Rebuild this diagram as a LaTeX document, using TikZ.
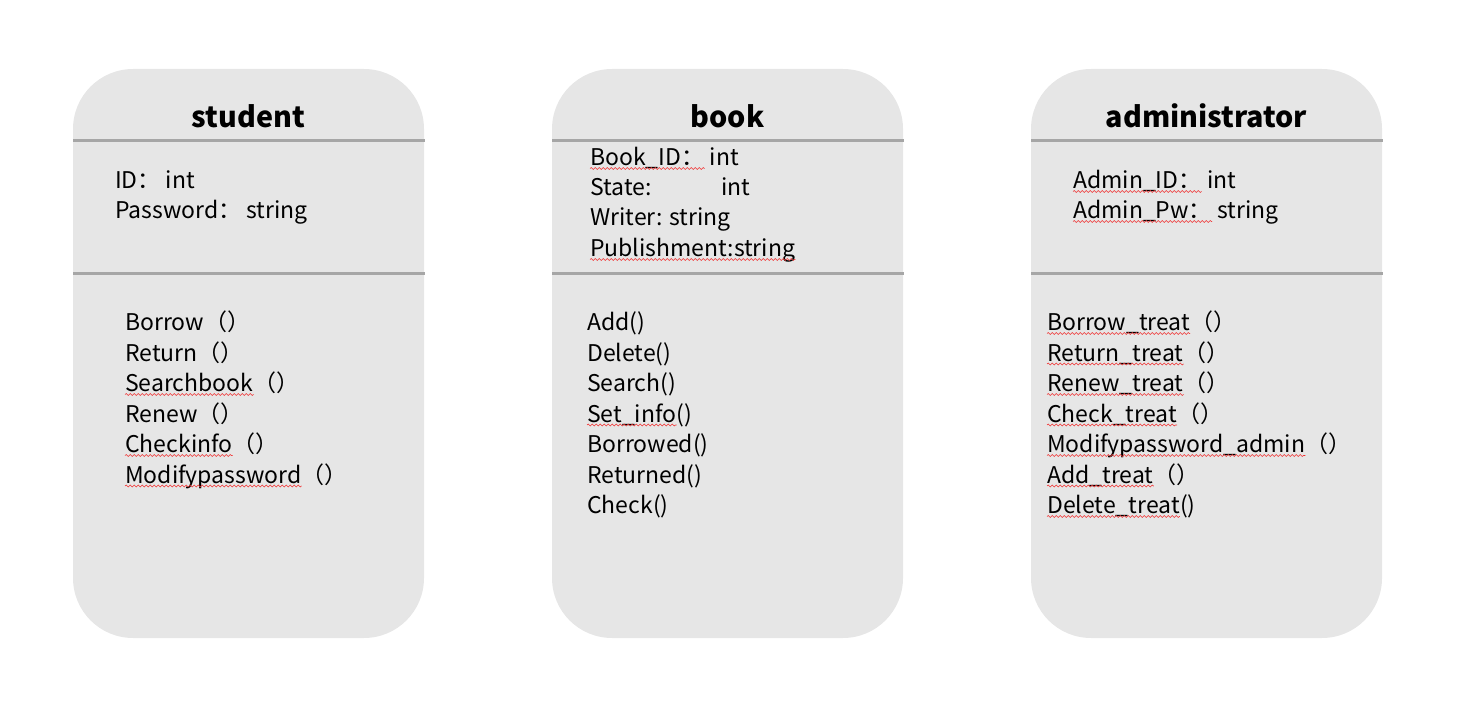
\documentclass[tikz,border=0pt]{standalone}
\usepackage{fontspec}
\setmainfont{Noto Sans CJK SC}
\usetikzlibrary{decorations.pathmorphing}
\definecolor{boxfill}{HTML}{E6E6E6}
\definecolor{rulegray}{HTML}{A6A6A6}
\definecolor{wavered}{HTML}{F03030}
\tikzset{
  classbox/.style={fill=boxfill,draw=none,rounded corners=60pt},
  divider/.style={draw=rulegray,line width=3pt},
  title/.style={font=\fontsize{28.7}{33}\selectfont\bfseries,anchor=base,inner sep=0pt},
  txt/.style={font=\fontsize{23}{28}\selectfont,anchor=base west,inner sep=0pt},
  wave/.style={draw=wavered,line width=0.6pt,decorate,decoration={snake,amplitude=0.9pt,segment length=4pt}},
}
\newcommand\wv[1]{\draw[wave] ([yshift=-3pt]#1.base west) -- ([yshift=-3pt]#1.base east);}
\begin{document}
\begin{tikzpicture}[x=1pt,y=-1pt]
\useasboundingbox (0,0) rectangle (1474,711);
% boxes
\foreach \xl in {73,552,1031}{
  \path[classbox] (\xl,69) rectangle ++(351,569);
  \draw[divider] (\xl,141) -- ++(352,0);
  \draw[divider] (\xl,273) -- ++(352,0);
}
% titles
\node[title] (tst) at (248.5,127.5) {student};
\node[title] (tbk) at (727.5,127.5) {book};
\node[title] (tad) at (1206.5,127.5) {administrator};
% student
\node[txt] (s1) at (115,188.5) {ID： int};
\node[txt] (s2) at (115,218.5) {Password： string};
\node[txt] (s3) at (125,330.5) {Borrow（）};
\node[txt] (s4) at (125,361) {Return（）};
\node[txt] (s5) at (125,391.5) {Searchbook};
\node[txt] (s5p) at (s5.base east) {（）};
\node[txt] (s6) at (125,422) {Renew（）};
\node[txt] (s7) at (125,452.5) {Checkinfo};
\node[txt] (s7p) at (s7.base east) {（）};
\node[txt] (s8) at (125,483) {Modifypassword};
\node[txt] (s8p) at (s8.base east) {（）};
% book
\node[txt] (b1) at (590,165.5) {Book\_ID：};
\node[txt] (b1p) at (b1.base east) {\ int};
\node[txt] (b2) at (590,195.5) {\makebox[131pt][l]{State:}int};
\node[txt] (b3) at (590,226) {Writer: string};
\node[txt] (b4) at (590,256.5) {Publishment:string};
\node[txt] (b5) at (587,330.5) {Add()};
\node[txt] (b6) at (587,361) {Delete()};
\node[txt] (b7) at (587,391.5) {Search()};
\node[txt] (b8) at (587,422) {Set\_info};
\node[txt] (b8p) at (b8.base east) {()};
\node[txt] (b9) at (587,452.5) {Borrowed()};
\node[txt] (b10) at (587,483) {Returned()};
\node[txt] (b11) at (587,513.5) {Check()};
% administrator
\node[txt] (a1) at (1073,188.5) {Admin\_ID：};
\node[txt] (a1p) at (a1.base east) {\ int};
\node[txt] (a2) at (1073,218.5) {Admin\_Pw：};
\node[txt] (a2p) at (a2.base east) {\ string};
\node[txt] (a3) at (1047,330.5) {Borrow\_treat};
\node[txt] (a3p) at (a3.base east) {（）};
\node[txt] (a4) at (1047,361) {Return\_treat};
\node[txt] (a4p) at (a4.base east) {（）};
\node[txt] (a5) at (1047,391.5) {Renew\_treat};
\node[txt] (a5p) at (a5.base east) {（）};
\node[txt] (a6) at (1047,422) {Check\_treat};
\node[txt] (a6p) at (a6.base east) {（）};
\node[txt] (a7) at (1047,452.5) {Modifypassword\_admin};
\node[txt] (a7p) at (a7.base east) {（）};
\node[txt] (a8) at (1047,483) {Add\_treat};
\node[txt] (a8p) at (a8.base east) {（）};
\node[txt] (a9) at (1047,513.5) {Delete\_treat};
\node[txt] (a9p) at (a9.base east) {()};
% spell-check waves
\foreach \n in {s5,s7,s8,b1,b4,b8,a1,a2,a3,a4,a5,a6,a7,a8,a9}{\wv{\n}}
\end{tikzpicture}
\end{document}
